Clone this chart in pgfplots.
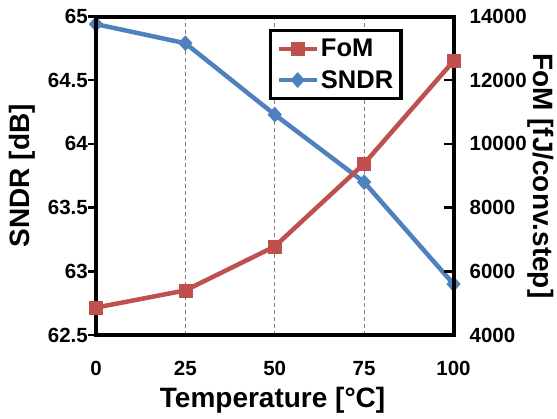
\documentclass[border=0pt]{standalone}
\usepackage{fontspec}
\setmainfont{Liberation Sans}
\usepackage{pgfplots}
\pgfplotsset{compat=1.18}
\definecolor{cred}{RGB}{192,80,77}
\definecolor{cblue}{RGB}{79,129,189}
\begin{document}
\begin{tikzpicture}
\pgfplotsset{
  common/.style={
    scale only axis, width=357.5pt, height=318.5pt, at={(0,0)}, anchor=south west,
    xmin=0, xmax=100, clip=false,
    /pgf/number format/assume math mode=true,
    /pgf/number format/1000 sep={},
    tick label style={font=\fontsize{20.5}{22}\selectfont\bfseries},
    label style={font=\fontsize{28}{30}\selectfont\bfseries},
    axis line style={line width=4pt},
    tick style={line width=2.5pt, black},
    major tick style={line width=2.5pt, black},
  },
}
\begin{axis}[common,
  ymin=62.5, ymax=65,
  ytick={62.5,63,63.5,64,64.5,65},
  yticklabels={62.5,63,63.5,64,64.5,65},
  xtick={0,25,50,75,100},
  xtick style={draw=none},
  ytick pos=left,
  tick align=outside,
  major tick length=8pt,
  xmajorgrids,
  major x grid style={dash pattern=on 4pt off 3pt, gray, line width=1pt},
  xticklabel style={inner sep=0pt, anchor=north, yshift=-18pt},
  yticklabel style={inner sep=0pt, anchor=east},
  xlabel={Temperature [\textdegree C]},
  ylabel={SNDR [dB]},
  xlabel style={at={(axis description cs:0.494,-0.229)}, anchor=base},
  ylabel style={at={(axis description cs:-0.207,0.5)}, anchor=center, rotate=0},
]
\addplot[cblue, line width=4.5pt, mark=diamond*, mark size=7.5pt, mark options={line width=0.5pt, fill=cblue, draw=cblue, xscale=1.2}]
  coordinates {(0,64.94) (25,64.79) (50,64.23) (75,63.70) (100,62.90)};
\end{axis}
\begin{axis}[common,
  ymin=4000, ymax=14000,
  ytick={4000,6000,8000,10000,12000,14000},
  scaled y ticks=false,
  hide x axis,
  ytick pos=right,
  tick align=inside,
  major tick length=10pt,
  yticklabel style={inner sep=0pt, anchor=west, xshift=16pt},
  ylabel={FoM [fJ/conv.step]},
  ylabel style={at={(axis description cs:1.243,0.5)}, anchor=center, rotate=180},
  legend style={at={(axis description cs:0.483,0.962)}, anchor=north west,
    draw=black, line width=3.5pt, font=\fontsize{25.5}{27}\selectfont\bfseries,
    inner xsep=6pt, inner ysep=7pt, row sep=8pt,
    legend cell align=left},
  legend image code/.code={\draw[mark repeat=2, mark phase=2] plot coordinates {(0pt,0pt) (19pt,0pt) (38pt,0pt)};},
]
\addplot[cred, line width=4.5pt, mark=square*, mark size=6.5pt, mark options={line width=0.5pt, fill=cred, draw=cred}]
  coordinates {(0,4860) (25,5400) (50,6780) (75,9380) (100,12600)};
\addlegendentry{FoM}
\addlegendimage{cblue, line width=4.5pt, mark=diamond*, mark size=7.5pt, mark options={line width=0.5pt, fill=cblue, draw=cblue, xscale=1.2}}
\addlegendentry{SNDR}
\end{axis}
\pgfresetboundingbox
\useasboundingbox (-96pt,-83pt) rectangle (461pt,335pt);
\end{tikzpicture}
\end{document}
